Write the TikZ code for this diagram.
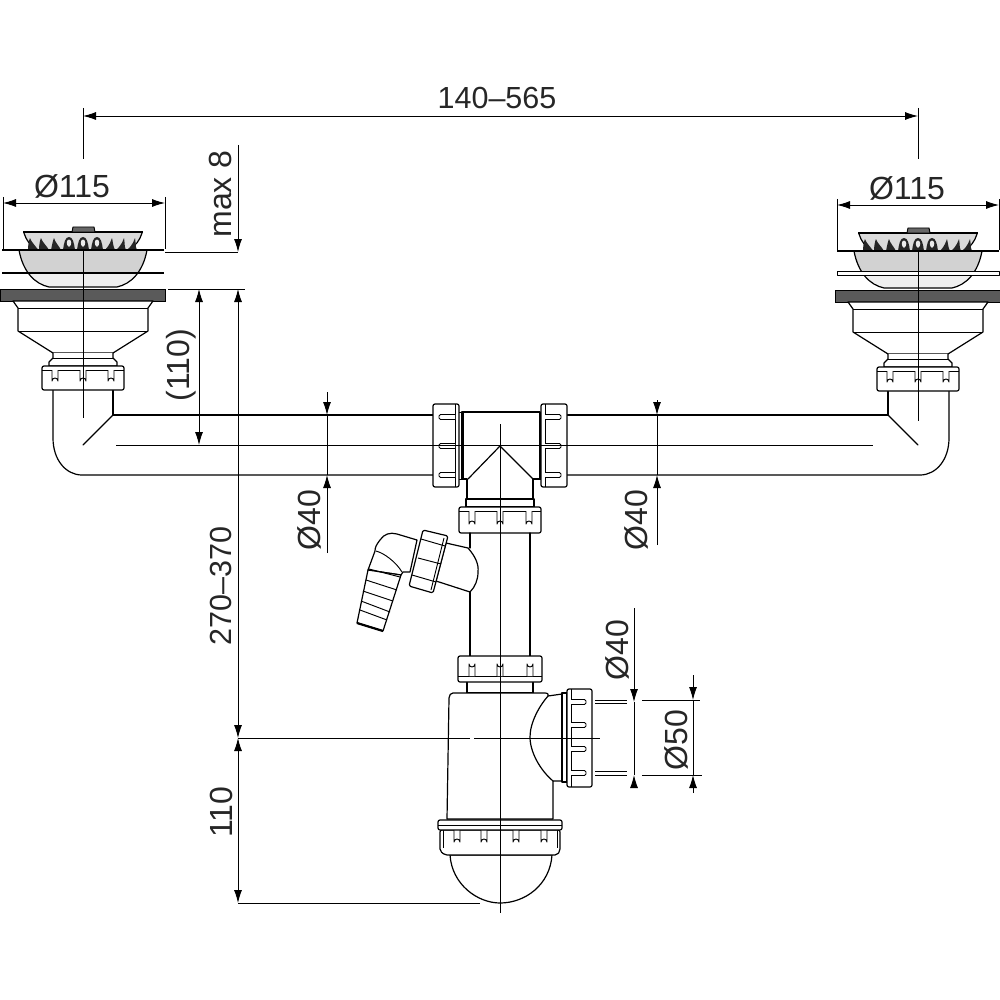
\documentclass[tikz,border=0pt]{standalone}
\usepackage{fontspec}
\setmainfont{Liberation Sans}
\usetikzlibrary{arrows.meta}
\definecolor{flange}{HTML}{5A5A5A}
\definecolor{bowl}{HTML}{D2D2D2}
\definecolor{bowll}{HTML}{EFEFEF}
\tikzset{
  part/.style={line width=1.2pt,line join=round,line cap=round},
  thin part/.style={line width=.95pt,line join=round},
  dimline/.style={line width=.9pt},
  dimboth/.style={dimline,{Latex[length=13pt,width=8pt]}-{Latex[length=13pt,width=8pt]}},
  dimend/.style={dimline,-{Latex[length=13pt,width=8pt]}},
  lab/.style={font=\fontsize{32}{34}\selectfont,inner sep=0pt,text=black!85},
  labn/.style={lab,font=\fontsize{30.5}{34}\selectfont},
  labv/.style={lab,rotate=90},
  labnv/.style={labn,rotate=90},
}
% horizontal nut: x1 x2 y1 y2 slots (slots hang from top)
\newcommand{\hnut}[5]{%
  \draw[part,fill=white,rounded corners=2pt] (#1,#3) rectangle (#2,#4);
  \draw[thin part] (#1,#3+4) -- (#2,#3+4);
  \foreach \c in {#5}{\draw[thin part,fill=white] (\c-3,#3+4) -- (\c-3,#4-9) arc[start angle=180,end angle=360,radius=3] -- (\c+3,#3+4);}
}
% horizontal nut with slots rising from bottom band
\newcommand{\hnutup}[5]{%
  \draw[part,fill=white,rounded corners=2pt] (#1,#3) rectangle (#2,#4);
  \draw[thin part] (#1,#4-6) -- (#2,#4-6);
  \foreach \c in {#5}{\draw[thin part,fill=white] (\c-3,#4-6) -- (\c-3,#3+8) arc[start angle=180,end angle=0,radius=3] -- (\c+3,#4-6);}
}
% vertical nut: x outer, x inner, y1 y2, sign towards outer, slots
\newcommand{\vnut}[6]{%
  \draw[part,fill=white,rounded corners=2pt] (#1,#3) rectangle (#2,#4);
  \draw[thin part] (#2+#5*4,#3) -- (#2+#5*4,#4);
  \foreach \c in {#6}{\draw[thin part,fill=white,rounded corners=1.5pt] (#2+#5*4,\c-2.5) -- (#1-#5*6,\c-2.5) -- (#1-#5*6,\c+2.5) -- (#2+#5*4,\c+2.5);}
}
% drain with centre at x=0 local coords; y as in reference
\newcommand{\drainparts}{%
  \path[fill=bowl] (-64,250) .. controls (-60,272) and (-48,284) .. (-34,286) -- (34,286) .. controls (48,284) and (60,272) .. (64,250) -- cycle;
  \path[fill=bowll] (-54,274) .. controls (-48,282) and (-42,285) .. (-34,286) -- (34,286) .. controls (42,285) and (48,282) .. (54,274) -- cycle;
  \draw[part] (-64,250) .. controls (-60,272) and (-48,284) .. (-34,287) -- (34,287) .. controls (48,284) and (60,272) .. (64,250);
  % strainer
  \path[fill=black!14] (-59,232) -- (59,232) .. controls (57,240) and (52,247) .. (46,249) -- (-46,249) .. controls (-52,247) and (-57,240) .. (-59,232) -- cycle;
  \draw[part] (-59,233) .. controls (-57,240) and (-52,247) .. (-46,249);
  \draw[part] (59,233) .. controls (57,240) and (52,247) .. (46,249);
  \draw[line width=1.6pt] (-60,232) -- (60,232);
  \draw[thin part,fill=black!60] (-11,232) -- (-10,227) -- (11,227) -- (12,232) -- cycle;
  \foreach \t/\l in {-50/-3,-39/-3,-27/-2,38/3,49/3,27/2}{
    \path[fill=black!85] (\t-5,250) .. controls (\t-2+\l,245) and (\t+\l-1,240) .. (\t+\l,238) .. controls (\t+\l+1,242) and (\t+3,246) .. (\t+5,250) -- cycle;
  }
  \foreach \t in {-14,0,14}{
    \path[fill=black!85] (\t-6,250) .. controls (\t-5,243) and (\t-4,237) .. (\t,237) .. controls (\t+4,237) and (\t+5,243) .. (\t+6,250) -- cycle;
    \path[fill=black!8] (\t,247) .. controls (\t-3,245) and (\t-3,240) .. (\t,239.5) .. controls (\t+3,240) and (\t+3,245) .. (\t,247) -- cycle;
  }
  \draw[line width=2.4pt] (-81,250) -- (81,250);
  % flange
  \draw[line width=.9pt,fill=flange] (-83,289) rectangle (82,301);
  % body
  \draw[part,fill=white] (-70,301) -- (-65,308) -- (-65,331) -- (-30,353) -- (30,353) -- (65,331) -- (65,308) -- (70,301) -- cycle;
  \draw[thin part] (-65,308) -- (65,308) (-65,331) -- (65,331);
  \draw[part,fill=white] (-30,353) -- (-30,358) -- (-34,362) -- (-34,366) -- (34,366) -- (34,362) -- (30,358) -- (30,353);
  \draw[thin part] (-30,358) -- (30,358);
  \hnut{-41}{41}{366}{390}{-28,0,28}
}
\begin{document}
\begin{tikzpicture}[x=1pt,y=-1pt]
\useasboundingbox (0,0) rectangle (1000,1000);
\path[fill=white] (0,0) rectangle (1000,1000);

% === main horizontal pipe and elbows ===
\draw[part] (53,390) -- (53,438) .. controls (53,460) and (66,475) .. (82,475) -- (435,475);
\draw[part] (113,390) -- (113,415) -- (435,415);
\draw[part] (113,415) -- (83,445);
\draw[part] (949,390) -- (949,438) .. controls (949,460) and (936,475) .. (920,475) -- (565,475);
\draw[part] (888,390) -- (888,415) -- (565,415);
\draw[part] (888,415) -- (918,445);

% === drains ===
\begin{scope}[shift={(83,0)}]\drainparts\end{scope}
\begin{scope}[shift={(918,1)}]\drainparts\end{scope}
\draw[line width=2pt] (2,273) -- (164,273);
\draw[thin part,fill=white] (837,271) rectangle (999,275);

% === tee ===
\draw[part,fill=white] (462,412) -- (540,412) -- (540,479) -- (533,479) -- (533,499) -- (467,499) -- (467,479) -- (462,479) -- cycle;
\draw[part] (468,479) -- (500,446) -- (533,479);
\draw[thin part] (459,412) -- (463,412) -- (463,479) -- (459,479);
\draw[thin part] (542,412) -- (539,412) -- (539,479) -- (542,479);
\vnut{433}{459}{404}{487}{-1}{417,446,475}
\vnut{567}{541}{404}{487}{1}{417,446,475}
\draw[part,fill=white] (466,499) -- (466,507) -- (534,507) -- (534,499) -- cycle;
\hnut{459}{541}{507}{533}{472,500,529}

% === vertical pipe ===
\draw[part] (470,533) -- (470,548);
\draw[part] (470,592) -- (470,656);
\draw[part] (530,533) -- (530,656);

% === hose adapter ===
\draw[part,fill=white] (446,543) -- (468,548) .. controls (475,556) and (479,564) .. (478,572) .. controls (478,580) and (475,587) .. (470,592) -- (436,581) -- cycle;
\draw[part,fill=white] (417,540) -- (397,534) .. controls (390,532) and (384,534) .. (380,540) .. controls (376,545) and (375,548) .. (375,551) -- (368,570) -- (401,575) -- (403,572) -- (410,572) -- cycle;
\draw[thin part] (376,551) .. controls (384,553) and (396,562) .. (402,572);
\draw[part,fill=white] (368,570) -- (357,623) -- (383,631) -- (401,575) -- cycle;
\draw[thin part] (369,569) -- (400,577);
\draw[thin part] (366,580) -- (397,590);
\draw[thin part] (363,591) -- (393,601);
\draw[thin part] (361,601) -- (390,612);
\draw[thin part] (360,610) -- (387,620);
\draw[line width=2.2pt] (357,623) -- (383,631);
\draw[part,fill=white,rounded corners=1.5pt] (423,530) -- (448,536) -- (433,593) -- (409,586) -- cycle;
\draw[thin part] (421,539) -- (445,546);
\draw[thin part] (412,575) -- (436,582);
\draw[thin part] (418,558) -- (441,564);
\draw[thin part] (444,538) -- (431,590);

% === bottle trap ===
\draw[part,fill=white] (467,682) -- (467,693) -- (533,693) -- (533,682);
\hnutup{458}{542}{656}{682}{472,500,530}
\draw[part,fill=white] (447,819) -- (449,698) .. controls (449,695) and (451,693) .. (453,693) -- (545,693) .. controls (548,693) and (549,695) .. (548,696) -- (562,694) -- (562,781) -- (553,781) -- (553,819) -- cycle;
\draw[part] (548,696) .. controls (540,705) and (530,722) .. (530,737) .. controls (530,752) and (540,770) .. (553,781);
\draw[part,fill=white] (562,693) rectangle (567,782);
\vnut{592}{567}{689}{787}{1}{702,725,749,773}
\draw[thin part] (595,700.5) -- (627,700.5);
\draw[thin part] (595,703.5) -- (627,703.5);
\draw[thin part] (595,771.5) -- (627,771.5);
\draw[thin part] (595,775) -- (627,775);
% bowl bottom
\draw[part,fill=white] (450,855) .. controls (452,885) and (478,903) .. (500,903) .. controls (525,903) and (550,885) .. (552,855) -- cycle;
\draw[part,fill=white,rounded corners=2pt] (440,830) -- (440,851) -- (445,855) -- (557,855) -- (560,851) -- (560,830) -- cycle;
\foreach \c in {457,484,516,544}{\draw[thin part,fill=white] (\c-3,830) -- (\c-3,842) arc[start angle=180,end angle=360,radius=3] -- (\c+3,830);}
\draw[thin part] (443,830) -- (443,848);
\draw[thin part] (557,830) -- (557,848);
\draw[part,fill=white,rounded corners=2pt] (438,820) rectangle (562,830);
\draw[thin part] (438,825) -- (562,825);

% === centre lines ===
\draw[dimline] (83,108) -- (83,159) (83,250) -- (83,418);
\draw[dimline] (918.5,108) -- (918.5,159) (918.5,251) -- (918.5,421);
\draw[dimline] (116,445) -- (873,445);
\draw[dimline] (500,424) -- (500,913);
\draw[dimline] (238,738) -- (470,738) (474,738) -- (600,738);
\draw[dimline] (238,903) -- (480,903);

% === dimensions ===
\draw[dimboth] (83,116) -- (918,116);
\node[labn] (d1) at (497,98) {140–565};
\draw[dimline] (3,197) -- (3,249) (165,197) -- (165,249);
\draw[dimboth] (3,203) -- (165,203);
\node[lab] (d2) at (72,186) {Ø115};
\draw[dimline] (837,199) -- (837,250) (999,199) -- (999,250);
\draw[dimboth] (837,205) -- (999,205);
\node[lab] (d3) at (907,188) {Ø115};

\draw[dimline] (165,252) -- (238,252);
\draw[dimline] (168,289) -- (245,289);
\draw[dimend] (238,145) -- (238,252);
\node[labv] (d4) at (220,194) {max 8};
\draw[dimboth] (238,289) -- (238,738);
\node[labnv] (d5) at (221,586) {270–370};
\draw[dimboth] (238,738) -- (238,903);
\node[labv] (d6) at (221,812) {110};
\draw[dimboth] (199,289) -- (199,445);
\node[labv] (d7) at (181,365) {(110)};

\draw[dimend] (327,392) -- (327,415);
\draw[dimline] (327,415) -- (327,475);
\draw[dimend] (327,553) -- (327,475);
\node[labv] (d8) at (309,520) {Ø40};
\draw[dimend] (657,400) -- (657,415);
\draw[dimline] (657,415) -- (657,475);
\draw[dimend] (657,545) -- (657,475);
\node[labv] (d9) at (636,520) {Ø40};

\draw[dimend] (634,608) -- (634,702);
\draw[dimline] (634,702) -- (634,775);
\draw[dimend] (634,786) -- (634,775);
\node[labv] (d10) at (617,650) {Ø40};
\draw[dimline] (642,700) -- (700,700) (642,775) -- (702,775);
\draw[dimend] (693,675) -- (693,700);
\draw[dimline] (693,700) -- (693,775);
\draw[dimend] (693,793) -- (693,775);
\node[labv] (d11) at (676,740) {Ø50};
\end{tikzpicture}
\end{document}
